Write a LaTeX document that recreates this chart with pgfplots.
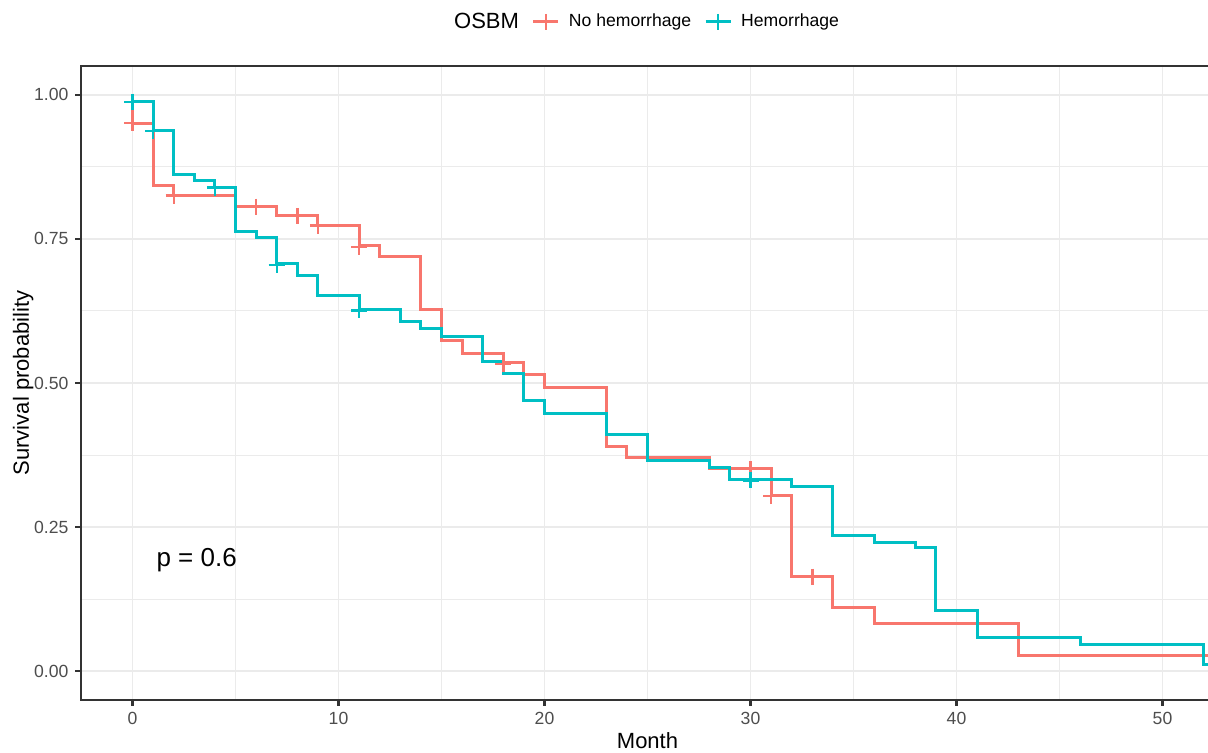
\documentclass[border=0pt]{standalone}
\usepackage{fontspec}
\setmainfont{Liberation Sans}
\usepackage{pgfplots}
\pgfplotsset{compat=1.18}
\definecolor{kmred}{HTML}{F8766D}
\definecolor{kmteal}{HTML}{00BFC4}
\definecolor{tickgray}{HTML}{4D4D4D}
\definecolor{framegray}{HTML}{333333}
\definecolor{gridgray}{HTML}{EBEBEB}

% Kaplan-Meier steps (month, survival)
\pgfplotstableread{
t s
0 1.000
0 0.951
1 0.842
2 0.825
5 0.806
7 0.790
9 0.773
11 0.738
12 0.719
14 0.628
15 0.573
16 0.551
18 0.535
19 0.514
20 0.4925
23 0.389
24 0.370
28 0.351
31 0.304
32 0.164
34 0.111
36 0.083
43 0.028
52.5 0.028
}\nohem
\pgfplotstableread{
t s
0 1.000
0 0.988
1 0.9375
2 0.861
3 0.851
4 0.839
5 0.763
6 0.752
7 0.7066
8 0.686
9 0.651
11 0.628
13 0.6065
14 0.595
15 0.581
17 0.538
18 0.517
19 0.469
20 0.447
23 0.411
25 0.366
28 0.354
29 0.333
32 0.320
34 0.236
36 0.223
38 0.2147
39 0.106
41 0.0585
46 0.046
52 0.012
52.5 0.012
}\hem
% censored times
\pgfplotstableread{
t s
0 0.951
2 0.825
6 0.806
8 0.790
9 0.773
11 0.736
18 0.533
30 0.351
31 0.304
33 0.164
}\nohemcens
\pgfplotstableread{
t s
0 0.988
1 0.9375
4 0.839
7 0.705
11 0.626
30 0.331
}\hemcens

\begin{document}
\begin{tikzpicture}
\path[use as bounding box] (-40.5pt,-26.5pt) rectangle (563.5pt,350pt);
\clip (-40.5pt,-26.5pt) rectangle (563.5pt,350pt);
\begin{axis}[
  at={(0pt,0pt)}, anchor=south west,
  scale only axis, width=566.5pt, height=317pt,
  xmin=-2.5, xmax=52.5, ymin=-0.05, ymax=1.05,
  xtick={0,10,...,50}, ytick={0,0.25,0.5,0.75,1},
  minor xtick={5,15,25,35,45},
  minor ytick={0.125,0.375,0.625,0.875},
  grid=both,
  major grid style={gridgray, line width=0.9pt},
  minor grid style={gridgray, line width=0.5pt},
  tick align=outside, tick pos=left,
  major tick length=2.75pt, minor tick length=0pt,
  major tick style={framegray, line width=1.07pt},
  axis line style={framegray, line width=1.07pt},
  ticklabel style={font=\fontsize{8.8}{10}\selectfont, color=tickgray},
  /pgf/number format/assume math mode=true,
  yticklabel style={/pgf/number format/fixed, /pgf/number format/fixed zerofill,
    /pgf/number format/precision=2},
  xlabel={Month}, ylabel={Survival probability},
  label style={font=\fontsize{11}{13}\selectfont},
  xlabel style={at={(axis description cs:0.5,0)}, yshift=-24pt, anchor=base},
  ylabel style={at={(axis description cs:0,0.5)}, yshift=26pt, anchor=base},
  legend columns=-1,
  legend style={at={(axis description cs:0.497,1.0695)}, anchor=center,
    draw=none, fill=none, font=\fontsize{8.8}{10}\selectfont,
    /tikz/every odd column/.append style={column sep=2.5pt},
    /tikz/every even column/.append style={column sep=4.5pt}},
  legend image code/.code={\draw[#1, mark repeat=2, mark phase=2]
    plot coordinates {(0pt,0pt)(6.25pt,0pt)(12.5pt,0pt)};},
]
\addlegendimage{empty legend}
\addlegendentry{\fontsize{11}{13}\selectfont OSBM}
\addlegendimage{kmred, line width=1.5pt, mark=+, mark size=4pt, mark options={line width=1.2pt}}
\addlegendentry{No hemorrhage}
\addlegendimage{kmteal, line width=1.5pt, mark=+, mark size=4pt, mark options={line width=1.2pt}}
\addlegendentry{Hemorrhage}

\addplot[kmred, line width=1.5pt, const plot, forget plot] table[x=t, y=s] {\nohem};
\addplot[kmteal, line width=1.5pt, const plot, forget plot] table[x=t, y=s] {\hem};
\addplot[kmred, only marks, mark=+, mark size=4pt, mark options={line width=1.2pt}, forget plot]
  table[x=t, y=s] {\nohemcens};
\addplot[kmteal, only marks, mark=+, mark size=4pt, mark options={line width=1.2pt}, forget plot]
  table[x=t, y=s] {\hemcens};

\node[font=\fontsize{13}{15}\selectfont, anchor=base west, inner sep=0pt] at (axis cs:1.15,0.182) {p = 0.6};
\end{axis}
\end{tikzpicture}
\end{document}
